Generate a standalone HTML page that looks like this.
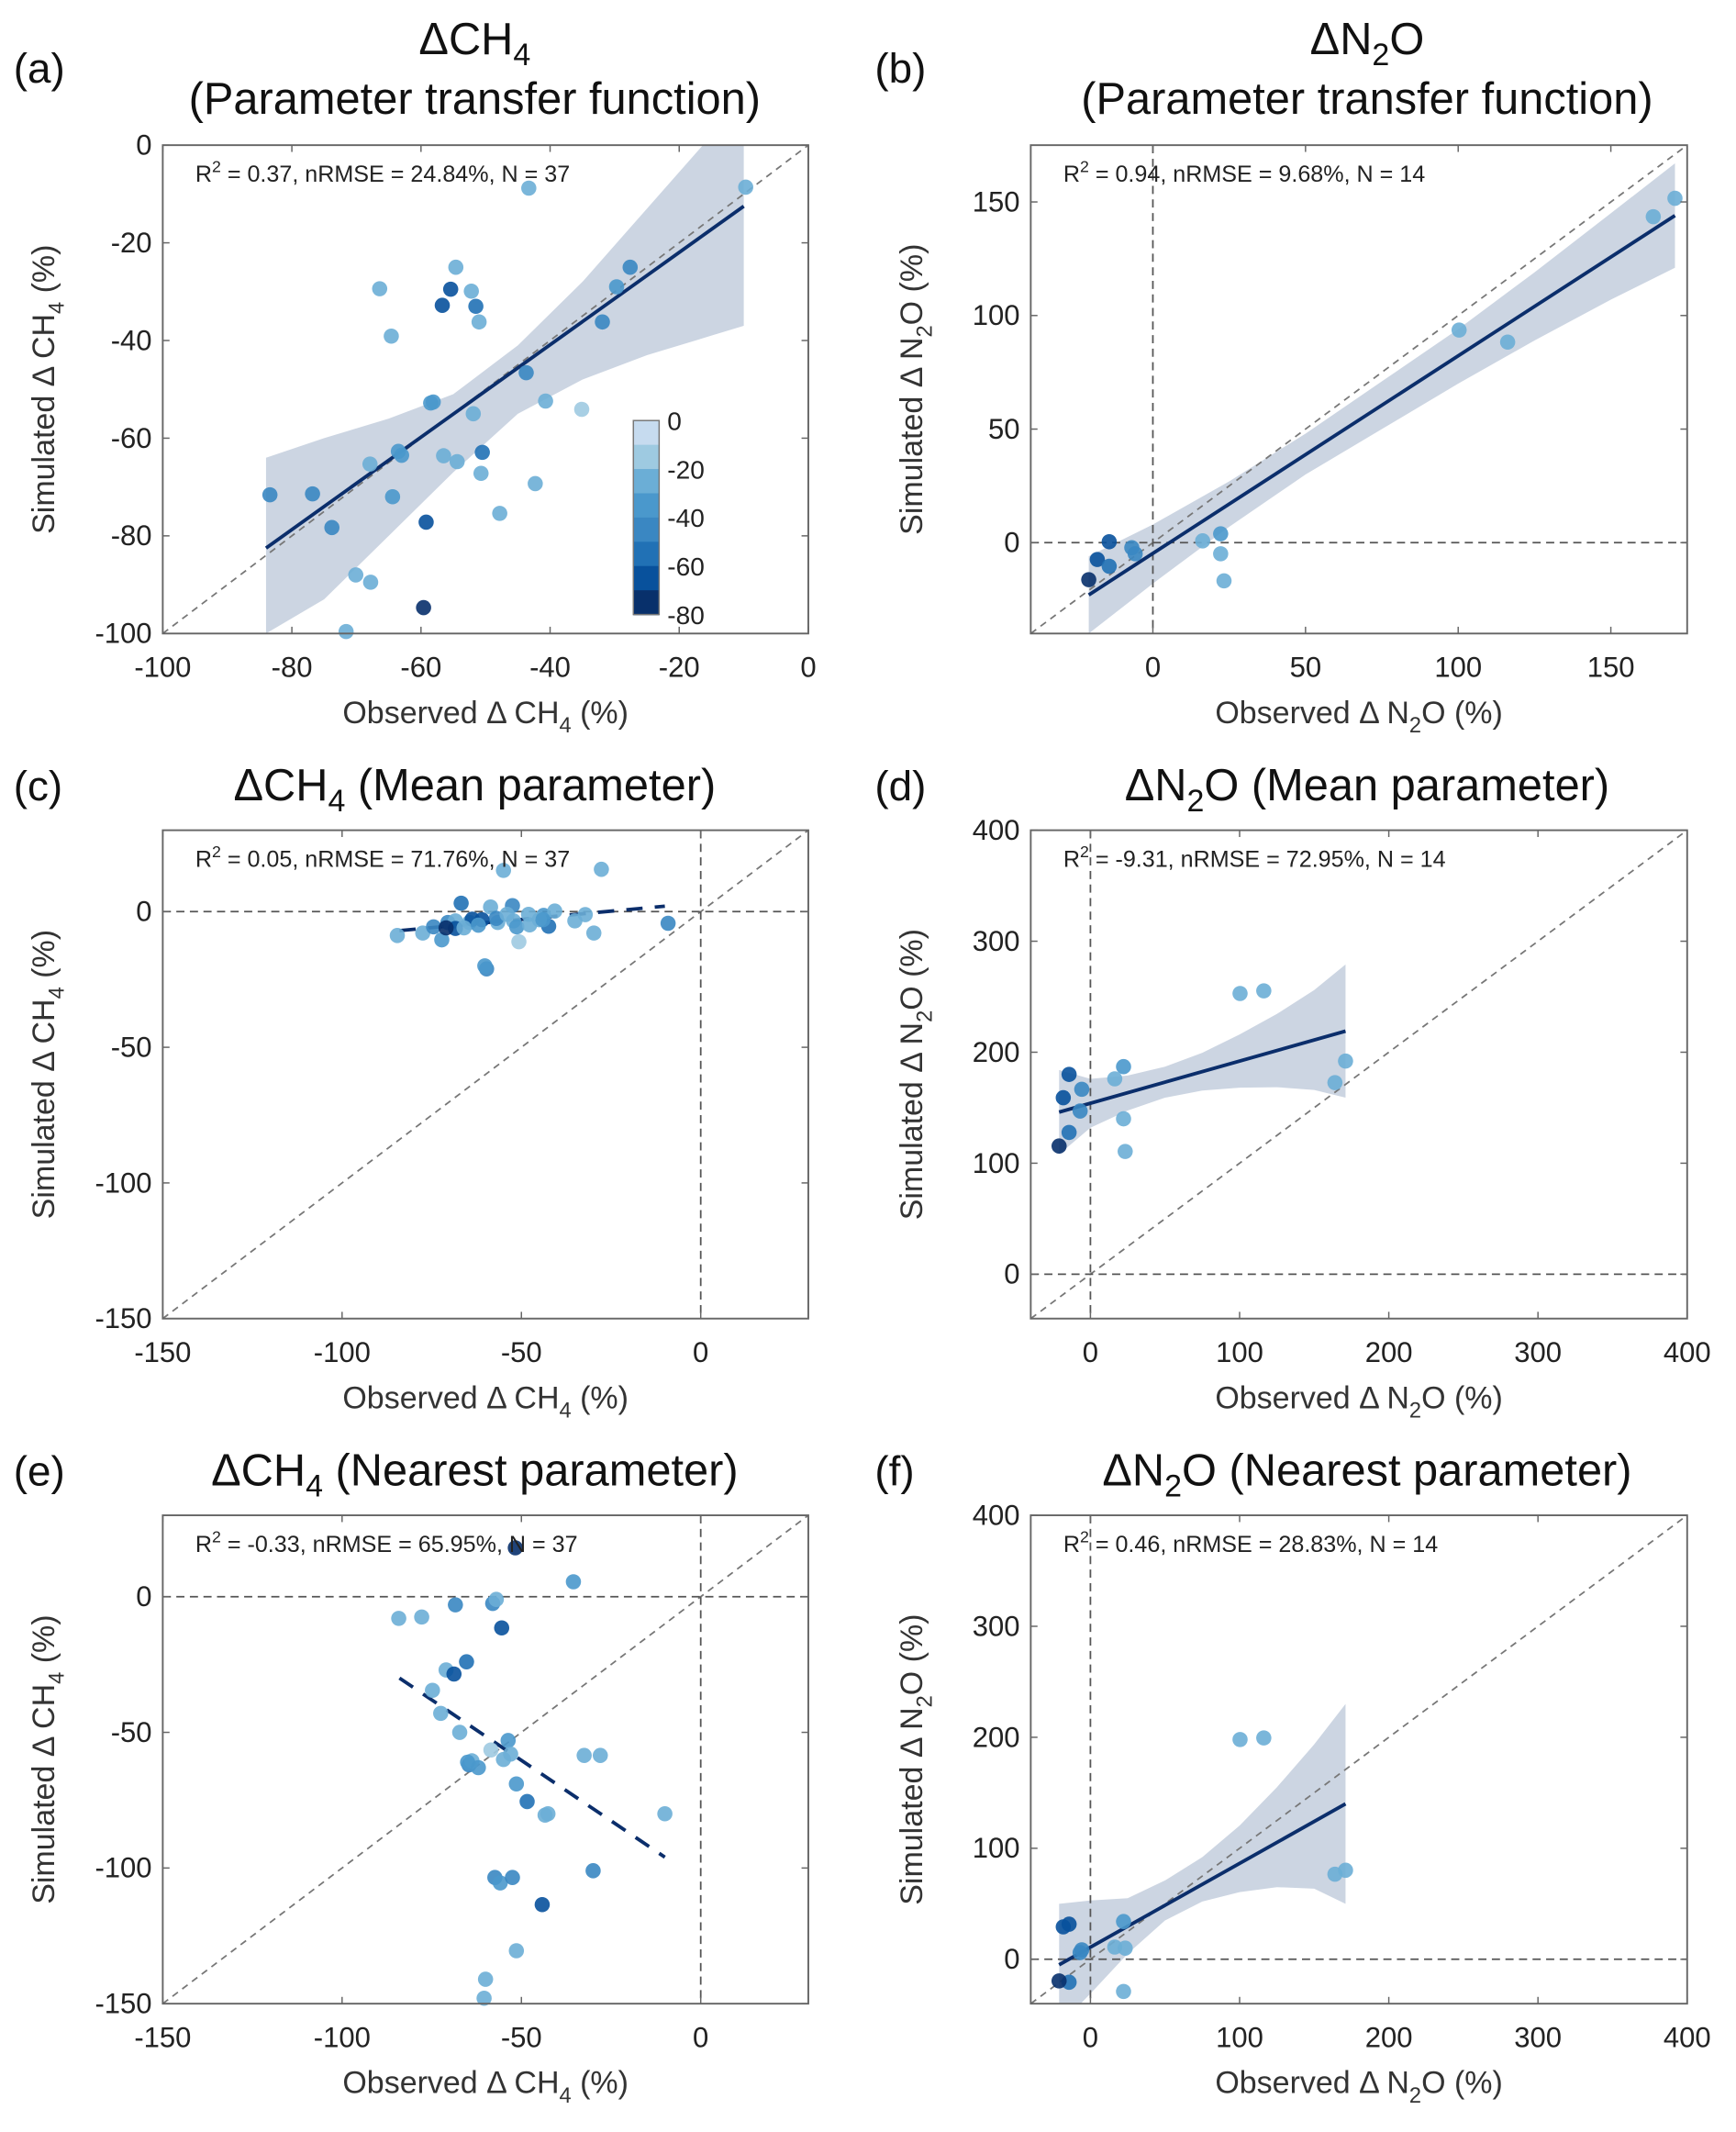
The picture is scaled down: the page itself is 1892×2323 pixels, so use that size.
<!DOCTYPE html>
<html><head><meta charset="utf-8">
<style>
html,body{margin:0;padding:0;background:#fff;}
svg{display:block;font-family:"Liberation Sans",Arial,sans-serif;}
</style></head>
<body>
<svg id="fig" width="1892" height="2323" viewBox="0 0 1280 1571.6" xmlns="http://www.w3.org/2000/svg"></svg>
<script>
// ---------- DATA ----------
const aObs = [-9.7,-43.3,-27.6,-29.7,-31.9,-54.6,-55.4,-52.2,-56.7,-51.5,-51,-66.4,-64.6,-43.7,-40.7,-58.1,-35.1,-51.9,-63.5,-50.5,-67.9,-56.5,-54.4,-50.7,-42.3,-83.4,-76.8,-64.4,-73.8,-59.2,-47.8,-70.1,-67.8,-59.6,-71.6,-63,-58.5];
const aSim = [-8.6,-8.8,-25,-29,-36.2,-25,-29.5,-29.9,-32.8,-33,-36.2,-29.4,-39.1,-46.6,-52.4,-52.6,-54.1,-55,-62.7,-62.9,-65.3,-63.6,-64.8,-67.2,-69.3,-71.6,-71.4,-72,-78.3,-77.2,-75.4,-88,-89.5,-94.7,-99.6,-63.5,-52.8];
const ch4Col = [-25,-22,-40,-38,-45,-22,-60,-22,-60,-55,-20,-20,-22,-45,-25,-35,-10,-28,-35,-55,-28,-28,-25,-20,-22,-40,-40,-38,-48,-65,-20,-20,-20,-75,-20,-35,-35];
const aFitX = [-84,-10], aFitY = [-82.5,-12.5];
const aBandX = [-84,-75,-65,-55,-45,-35,-25,-15,-10];
const aBandUp = [-64,-60,-56,-51,-41,-28,-13,2,10];
const aBandLo = [-100,-93,-80,-67,-55,-48,-43,-39,-37];

const n2oObs = [171,163.9,100.3,116.2,-14.3,-18.2,-14.3,-21,-6.9,-5.8,16.3,22.2,22.2,23.3];
const n2oCol = [-22,-25,-25,-25,-60,-65,-55,-75,-45,-45,-20,-30,-25,-20];
const bSim = [151.6,143.5,93.6,88.3,0.4,-7.4,-10.4,-16.3,-2.2,-4.9,0.8,3.9,-4.9,-16.8];
const bFitX = [-21,171], bFitY = [-23,144];
const bBandX = [-21,0,25,50,75,100,125,150,171];
const bBandUp = [-6,8,27,48,71,94,119,145,167];
const bBandLo = [-40,-18,7,30,50,70,89,107,121];

const cObs = [-84.6,-77.5,-74.5,-72.2,-70.5,-68.4,-68.4,-64.5,-63.7,-66.8,-58.6,-56.6,-55,-52.5,-52.2,-51.3,-50.7,-47.7,-43.8,-42.4,-40.7,-35.1,-32.2,-29.8,-27.7,-9.1,-59.7,-60.2,-57,-61,-54,-45,-66,-71,-48,-44,-62];
const cSim = [-8.8,-7.9,-5.6,-10.4,-4,-3.4,-6.2,-4,-2.8,3.1,1.7,-4,15.2,2.2,-3.4,-5.6,-11.1,-4.9,-1.4,-5.4,0.2,-3.4,-1.1,-7.9,15.6,-4.3,-21.1,-20,-2.5,-3,-1,-3,-6,-6,-1,-3,-5];
const cFitX = [-84,-10], cFitY = [-7,2];

const dSim = [192,172.6,252.9,255.3,180,159,127.7,115.5,147,166.6,176,187,140,110.6];
const dFitX = [-21,171], dFitY = [146,219];
const dBandX = [-21,0,25,50,75,100,125,150,171];
const dBandUp = [184,176,179,187,199.5,216,234.5,256,279];
const dBandLo = [108,132,147.5,159,165.5,168,168.5,166,159];

const eObs = [-84.2,-77.8,-68.4,-35.5,-58,-57,-55.5,-71,-68.8,-65.3,-74.8,-72.5,-67.2,-64.6,-63.8,-53.7,-58.5,-53,-51.4,-48.4,-43.4,-42.6,-32.5,-28,-10,-30,-57.4,-55.9,-52.5,-44.2,-51.4,-60,-60.4,-51.7,-55,-65,-62];
const eSim = [-8,-7.5,-3,5.5,-2.5,-1,-11.5,-27,-28.5,-24,-34.5,-43,-50,-62,-60.5,-53,-56.5,-58,-69,-75.5,-80.5,-80,-58.5,-58.5,-80,-101,-103.5,-105.5,-103.5,-113.5,-130.5,-141,-148,18,-60,-61,-63];
const eFitX = [-84,-10], eFitY = [-30,-96];

const fSim = [80.2,76.6,198,199.4,31.6,29.2,-20.7,-19.5,6,8.5,11,34,-29,10];
const fFitX = [-21,171], fFitY = [-5,140];
const fBandX = [-21,0,25,50,75,100,125,150,171];
const fBandUp = [50,53,55,71,92,120.5,155,193.6,230];
const fBandLo = [-60,-31,5,35,52,60.5,65,63.6,50];

const ch4Ticks100 = [-100,-80,-60,-40,-20,0];
const ch4Ticks150 = [-150,-100,-50,0];
const n2oTicksB = [0,50,100,150];
const n2oTicks400 = [0,100,200,300,400];
const cbarTicks = [0,-20,-40,-60,-80];
const cbarColors = ['#c6dbef','#9ecae1','#6baed6','#4a98cc','#3a87c2','#2171b5','#08519c','#08306b'];

// ---------- DRAWING ----------
const svg = document.getElementById('fig');
const NS = 'http://www.w3.org/2000/svg';
function mk(tag, attrs, parent){
  const e = document.createElementNS(NS, tag);
  for (const k in attrs) e.setAttribute(k, attrs[k]);
  (parent||svg).appendChild(e);
  return e;
}
function colOf(v){
  let i = Math.floor(-v/10); if(i<0)i=0; if(i>7)i=7;
  return cbarColors[i];
}
let clipId = 0;
function panel(o){
  const g = mk('g',{});
  
  
  const L=o.L,R=o.R,T=o.T,B=o.B;
  const sx = v => L + (v-o.x0)/(o.x1-o.x0)*(R-L);
  const sy = v => B - (v-o.y0)/(o.y1-o.y0)*(B-T);
  const cid = 'clip'+(clipId++);
  const cp = mk('clipPath',{id:cid},g);
  mk('rect',{x:L,y:T,width:R-L,height:B-T},cp);
  const inner = mk('g',{'clip-path':'url(#'+cid+')'},g);
  if (o.bandX){
    let pts = o.bandX.map((x,i)=>sx(x)+','+sy(o.bandUp[i]));
    for (let i=o.bandX.length-1;i>=0;i--) pts.push(sx(o.bandX[i])+','+sy(o.bandLo[i]));
    const band = mk('polygon',{points:pts.join(' '),fill:'#ccd5e2'},inner);
    
    
  }
  const lo = Math.max(o.x0,o.y0), hi = Math.min(o.x1,o.y1);
  const d1 = mk('line',{x1:sx(lo),y1:sy(lo),x2:sx(hi),y2:sy(hi),stroke:'#777','stroke-width':1.2,'stroke-dasharray':'5,4'},inner);
  
  
  if (o.zero){
    const hz = mk('line',{x1:L,y1:sy(0),x2:R,y2:sy(0),stroke:'#555','stroke-width':1.2,'stroke-dasharray':'6,4'},inner);
    
    
    const vz = mk('line',{x1:sx(0),y1:T,x2:sx(0),y2:B,stroke:'#555','stroke-width':1.2,'stroke-dasharray':'6,4'},inner);
    
    
  }
  const fl = mk('line',{x1:sx(o.fitX[0]),y1:sy(o.fitY[0]),x2:sx(o.fitX[1]),y2:sy(o.fitY[1]),stroke:'#0b2e6b','stroke-width':2.6},inner);
  if (o.dashFit) fl.setAttribute('stroke-dasharray','12,9');
  
  
  o.obs.forEach((x,i)=>{
    const c = mk('circle',{cx:sx(x),cy:sy(o.sim[i]),r:5.6,fill:colOf(o.col[i]),'fill-opacity':0.9},g);
    
    
  });
  const box = mk('rect',{x:L,y:T,width:R-L,height:B-T,fill:'none',stroke:'#666','stroke-width':1.3},g);
  
  
  o.xt.forEach(v=>{
    const X=sx(v);
    mk('line',{x1:X,y1:B,x2:X,y2:B-5,stroke:'#666'},g);
    mk('line',{x1:X,y1:T,x2:X,y2:T+5,stroke:'#666'},g);
    const t = mk('text',{x:X,y:B+32,'font-size':21,'text-anchor':'middle',fill:'#222'},g);
    t.textContent = v;
    
    
  });
  o.yt.forEach(v=>{
    const Y=sy(v);
    mk('line',{x1:L,y1:Y,x2:L+5,y2:Y,stroke:'#666'},g);
    mk('line',{x1:R,y1:Y,x2:R-5,y2:Y,stroke:'#666'},g);
    const t = mk('text',{x:L-8,y:Y+7,'font-size':21,'text-anchor':'end',fill:'#222'},g);
    t.textContent = v;
    
    
  });
  const an = mk('text',{x:L+24,y:T+27,'font-size':17,fill:'#222'},g);
  an.innerHTML = 'R<tspan dy="-7" font-size="12">2</tspan><tspan dy="7"> = '+o.stats+'</tspan>';
  
  
  const gas = o.gas==='ch4' ? ['CH','4',' (%)'] : ['N','2','O (%)'];
  const xl = mk('text',{x:(L+R)/2,y:B+66,'font-size':23,'text-anchor':'middle',fill:'#333'},g);
  xl.innerHTML = 'Observed \u0394 '+gas[0]+'<tspan dy="7" font-size="16">'+gas[1]+'</tspan><tspan dy="-7">'+gas[2]+'</tspan>';
  
  
  const yx = L-80, yy=(T+B)/2;
  const yl = mk('text',{x:yx,y:yy,'font-size':23,'text-anchor':'middle',fill:'#333',transform:'rotate(-90 '+yx+' '+yy+')'},g);
  yl.innerHTML = 'Simulated \u0394 '+gas[0]+'<tspan dy="7" font-size="16">'+gas[1]+'</tspan><tspan dy="-7">'+gas[2]+'</tspan>';
  
  
  const gasT = o.gas==='ch4' ? ['CH','4',''] : ['N','2','O'];
  o.title.forEach((line,i)=>{
    const tt = mk('text',{x:o.tcx,y:o.ty+i*44,'font-size':33,'text-anchor':'middle',fill:'#111'},g);
    if (line.indexOf('#GAS')>=0){
      const rest = line.split('#GAS')[1];
      tt.innerHTML = '\u0394'+gasT[0]+'<tspan dy="8" font-size="23">'+gasT[1]+'</tspan><tspan dy="-8">'+gasT[2]+rest+'</tspan>';
    } else {
      tt.textContent = line;
    }
    
    
  });
  const pl = mk('text',{x:o.lx,y:o.ly,'font-size':31,fill:'#111'},g);
  pl.textContent = o.letter;
  
  
}

panel({name:'panel-a',L:120,R:596,T:107,B:467,x0:-100,x1:0,y0:-100,y1:0,obs:aObs,sim:aSim,col:ch4Col,fitX:aFitX,fitY:aFitY,bandX:aBandX,bandUp:aBandUp,bandLo:aBandLo,xt:ch4Ticks100,yt:ch4Ticks100,stats:'0.37, nRMSE = 24.84%, N = 37',gas:'ch4',title:['#GAS','(Parameter transfer function)'],tcx:350,ty:40,letter:'(a)',lx:10,ly:61});
panel({name:'panel-b',L:760,R:1244,T:107,B:467,x0:-40,x1:175,y0:-40,y1:175,zero:true,obs:n2oObs,sim:bSim,col:n2oCol,fitX:bFitX,fitY:bFitY,bandX:bBandX,bandUp:bBandUp,bandLo:bBandLo,xt:n2oTicksB,yt:n2oTicksB,stats:'0.94, nRMSE = 9.68%, N = 14',gas:'n2o',title:['#GAS','(Parameter transfer function)'],tcx:1008,ty:40,letter:'(b)',lx:645,ly:61});
panel({name:'panel-c',L:120,R:596,T:612,B:972,x0:-150,x1:30,y0:-150,y1:30,zero:true,dashFit:true,obs:cObs,sim:cSim,col:ch4Col,fitX:cFitX,fitY:cFitY,xt:ch4Ticks150,yt:ch4Ticks150,stats:'0.05, nRMSE = 71.76%, N = 37',gas:'ch4',title:['#GAS (Mean parameter)'],tcx:350,ty:590,letter:'(c)',lx:10,ly:590});
panel({name:'panel-d',L:760,R:1244,T:612,B:972,x0:-40,x1:400,y0:-40,y1:400,zero:true,obs:n2oObs,sim:dSim,col:n2oCol,fitX:dFitX,fitY:dFitY,bandX:dBandX,bandUp:dBandUp,bandLo:dBandLo,xt:n2oTicks400,yt:n2oTicks400,stats:'-9.31, nRMSE = 72.95%, N = 14',gas:'n2o',title:['#GAS (Mean parameter)'],tcx:1008,ty:590,letter:'(d)',lx:645,ly:590});
panel({name:'panel-e',L:120,R:596,T:1117,B:1477,x0:-150,x1:30,y0:-150,y1:30,zero:true,dashFit:true,obs:eObs,sim:eSim,col:ch4Col,fitX:eFitX,fitY:eFitY,xt:ch4Ticks150,yt:ch4Ticks150,stats:'-0.33, nRMSE = 65.95%, N = 37',gas:'ch4',title:['#GAS (Nearest parameter)'],tcx:350,ty:1095,letter:'(e)',lx:10,ly:1095});
panel({name:'panel-f',L:760,R:1244,T:1117,B:1477,x0:-40,x1:400,y0:-40,y1:400,zero:true,obs:n2oObs,sim:fSim,col:n2oCol,fitX:fFitX,fitY:fFitY,bandX:fBandX,bandUp:fBandUp,bandLo:fBandLo,xt:n2oTicks400,yt:n2oTicks400,stats:'0.46, nRMSE = 28.83%, N = 14',gas:'n2o',title:['#GAS (Nearest parameter)'],tcx:1008,ty:1095,letter:'(f)',lx:645,ly:1095});

const cb = mk('g',{});


const cbT=310, cbB=453, cbL=467, cbR=486;
cbarColors.forEach((c,i)=>{
  const h=(cbB-cbT)/cbarColors.length;
  mk('rect',{x:cbL,y:cbT+i*h,width:cbR-cbL,height:h+0.5,fill:c},cb);
});
mk('rect',{x:cbL,y:cbT,width:cbR-cbL,height:cbB-cbT,fill:'none',stroke:'#777','stroke-width':1},cb);
cbarTicks.forEach(v=>{
  const y = cbT + (-v/80)*(cbB-cbT);
  const t = mk('text',{x:cbR+6,y:y+7,'font-size':19,fill:'#222'},cb);
  t.textContent = v;
  
  
});
</script>
</body></html>
